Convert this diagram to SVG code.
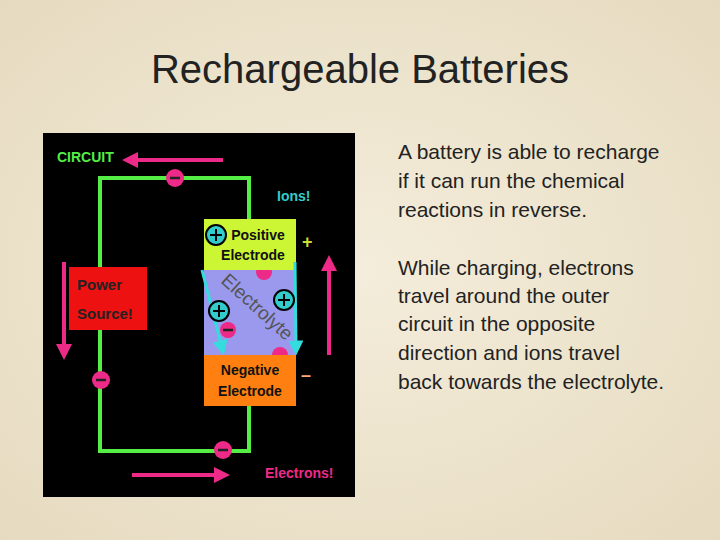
<svg xmlns="http://www.w3.org/2000/svg" width="720" height="540" viewBox="0 0 720 540">
<defs>
<style>
.t{font-family:"Liberation Sans",Arial,sans-serif}
.b{font-family:"Liberation Sans",Arial,sans-serif;font-weight:bold}
.w{stroke:#55ee44;stroke-width:4;fill:none}
.pa{stroke:#ee2a88;stroke-width:4;fill:none}
.ca{stroke:#33dddd;stroke-width:3;fill:none}
.mn{fill:#ee2a88}
.pl{fill:#33cccc;stroke:#000;stroke-width:2}
</style>
<marker id="pk" markerWidth="4" markerHeight="4" refX="2" refY="2" orient="auto"><path d="M0,0L4,2L0,4Z" fill="#ee2a88"/></marker>
<marker id="cy" markerWidth="5" markerHeight="5" refX="2.5" refY="2.5" orient="auto"><path d="M0,0L5,2.5L0,5Z" fill="#33dddd"/></marker>
<clipPath id="ec"><rect x="204" y="270" width="92" height="85"/></clipPath>
<radialGradient id="bg" cx="50%" cy="50%" r="70%"><stop offset="0" stop-color="#f4eddb"/><stop offset="1" stop-color="#e6dbc0"/></radialGradient>
</defs>
<rect width="720" height="540" fill="url(#bg)"/>
<text class="t" x="360" y="83" text-anchor="middle" font-size="40" fill="#222">Rechargeable Batteries</text>
<g id="text-right" class="t" font-size="21" fill="#222">
<text x="398" y="159">A battery is able to recharge</text>
<text x="398" y="188">if it can run the chemical</text>
<text x="398" y="217">reactions in reverse.</text>
<text x="398" y="275">While charging, electrons</text>
<text x="398" y="303">travel around the outer</text>
<text x="398" y="331">circuit in the opposite</text>
<text x="398" y="360">direction and ions travel</text>
<text x="398" y="389">back towards the electrolyte.</text>
</g>
<rect x="43" y="133" width="312" height="364" fill="#000"/>
<g id="electrolyte">
<rect x="204" y="270" width="92" height="85" fill="#9a99ee"/>
<circle class="mn" cx="264" cy="272" r="8"/>
<circle class="mn" cx="280" cy="355" r="8"/>
<g clip-path="url(#ec)"><text class="t" font-size="19" fill="#555" transform="translate(220,282) rotate(42)">Electrolyte</text></g>
</g>
<g id="positive-electrode">
<rect x="204" y="219" width="92" height="51" fill="#ccf533"/>
<text class="b" x="258" y="240" text-anchor="middle" font-size="14" fill="#111">Positive</text>
<text class="b" x="253" y="260" text-anchor="middle" font-size="14" fill="#111">Electrode</text>
</g>
<g id="negative-electrode">
<rect x="204" y="355" width="92" height="51" fill="#ff8010"/>
<text class="b" x="250" y="375" text-anchor="middle" font-size="14" fill="#111">Negative</text>
<text class="b" x="250" y="396" text-anchor="middle" font-size="14" fill="#111">Electrode</text>
</g>
<g id="power-source">
<rect x="69" y="267" width="78" height="63" fill="#ee1111"/>
<text class="b" x="77" y="290" font-size="15" fill="#222">Power</text>
<text class="b" x="77" y="319" font-size="15" fill="#222">Source!</text>
</g>
<g id="connectors">
<path class="w" d="M100,267V178H249V219M100,330V451H249V406"/>
<path class="pa" d="M223,160H130" marker-end="url(#pk)"/>
<path class="pa" d="M64,262V352" marker-end="url(#pk)"/>
<path class="pa" d="M132,475H222" marker-end="url(#pk)"/>
<path class="pa" d="M329,355V263" marker-end="url(#pk)"/>
<path class="ca" d="M202,270L222,348" marker-end="url(#cy)"/>
<path class="ca" d="M295,262L296,348" marker-end="url(#cy)"/>
</g>
<g id="charges">
<circle class="mn" cx="228" cy="330" r="8"/>
<circle class="mn" cx="175" cy="178" r="9"/>
<circle class="mn" cx="101" cy="380" r="9"/>
<circle class="mn" cx="223" cy="450" r="9"/>
<g stroke="#222" stroke-width="2.5"><path d="M170,178h10M96,380h10M218,450h10M223,330h10"/></g>
<circle class="pl" cx="216" cy="235" r="10"/>
<circle class="pl" cx="284" cy="300" r="10"/>
<circle class="pl" cx="219" cy="311" r="10"/>
<g stroke="#000" stroke-width="2"><path d="M210,235h12M216,229v12M278,300h12M284,294v12M213,311h12M219,305v12"/></g>
</g>
<g id="labels" class="b" font-size="14">
<text x="57" y="162" fill="#55ee44">CIRCUIT</text>
<text x="277" y="201" fill="#33cccc">Ions!</text>
<text x="265" y="478" fill="#ee2a88">Electrons!</text>
<text x="302" y="248" font-size="18" fill="#ccdd33">+</text>
<text x="301" y="381" font-size="18" fill="#ffaa77">–</text>
</g>
</svg>
